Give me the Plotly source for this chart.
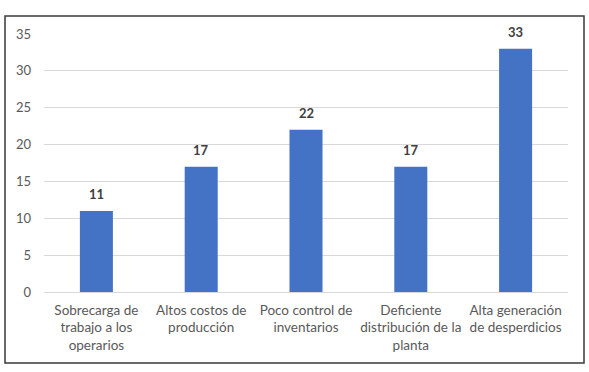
import plotly.graph_objects as go

categories = [
    "Sobrecarga de<br>trabajo a los<br>operarios",
    "Altos costos de<br>producción",
    "Poco control de<br>inventarios",
    "Deficiente<br>distribución de la<br>planta",
    "Alta generación<br>de desperdicios",
]
values = [11, 17, 22, 17, 33]
y_ticks = [0, 5, 10, 15, 20, 25, 30, 35]

W, H = 589, 372
L, R, T, B = 44, 21, 34, 80
pw, ph = W - L - R, H - T - B

fig = go.Figure(go.Bar(
    x=categories, y=values,
    marker=dict(color="#4472C4", line=dict(width=0)),
    hoverinfo="x+y",
))

annotations = [
    dict(x=c, y=v, xref="x", yref="y", text=f"<b>{v}</b>", showarrow=False,
         yanchor="bottom", yshift=7,
         font=dict(family="Lato", size=13, color="#404040"))
    for c, v in zip(categories, values)
]

fig.update_layout(
    width=W, height=H,
    margin=dict(l=L, r=R, t=T, b=B),
    paper_bgcolor="white", plot_bgcolor="white",
    bargap=0.685,
    showlegend=False,
    font=dict(family="Lato", size=13, color="#595959"),
    xaxis=dict(showgrid=False, showline=False, ticks="", tickfont=dict(size=13.5),
               ticklabelstandoff=8),
    yaxis=dict(range=[0, 35], tickvals=y_ticks, showgrid=True, gridcolor="#D9D9D9",
               gridwidth=1, zeroline=True, zerolinecolor="#D9D9D9", zerolinewidth=1,
               showline=False, ticks="", ticklabelstandoff=12, tickfont=dict(size=13)),
    annotations=annotations,
    shapes=[dict(type="rect", xref="paper", yref="paper",
                 x0=(5 - L) / pw, x1=(584 - L) / pw,
                 y0=(H - B - 363) / ph, y1=(H - B - 16) / ph,
                 line=dict(color="#3A3A3A", width=1.5), fillcolor="rgba(0,0,0,0)")],
)

fig.write_html("out.html", config={"displayModeBar": False},
               post_script="document.body.style.margin='0';")
